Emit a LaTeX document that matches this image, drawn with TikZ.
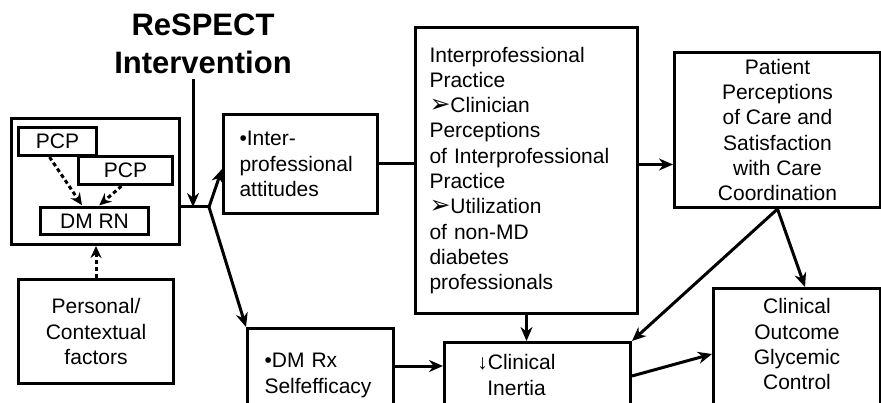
\documentclass[tikz,border=0pt]{standalone}
\usepackage{fontspec}
\setmainfont{Liberation Sans}
\newfontfamily\dejavu{DejaVu Sans}
\usetikzlibrary{arrows.meta,calc}
\newcommand\arrowhd{{\dejavu\fontsize{25}{20}\selectfont ➢}}
\tikzset{
  box/.style={draw, line width=3pt, rectangle, anchor=north west, inner sep=0pt,
    font=\fontsize{21}{25.3}\selectfont},
  plainline/.style={line width=3pt},
  arr/.style={line width=3pt, -{Stealth[length=14pt,width=12pt,inset=4.5pt]}},
  darr/.style={line width=3pt, dash pattern=on 4pt off 3pt,
    -{Stealth[length=12pt,width=11pt,inset=4pt]}},
}
\begin{document}
\begin{tikzpicture}[x=1pt,y=-1pt]
\useasboundingbox (0,0) rectangle (881,403);
\clip (0,0) rectangle (881,403);
\fill[white] (0,0) rectangle (881,403);

% title
\node[font=\bfseries\fontsize{31}{38}\selectfont, align=center, inner sep=0pt, anchor=north]
  (title) at (203,14) {ReSPECT\\Intervention};

% left group
\node[box, minimum width=168pt, minimum height=126pt] (team) at (10,117) {};
\node[box, minimum width=78pt, minimum height=28pt] (pcp1) at (17,126) {PCP};
\node[box, minimum width=94pt, minimum height=28pt] (pcp2) at (77,155) {PCP};
\node[box, minimum width=108pt, minimum height=27pt] (dmrn) at (39,206) {DM RN};
\node[box, minimum width=155pt, minimum height=104pt, align=center] (pers) at (17,278)
  {Personal/\\Contextual\\factors};

% middle
\node[box, minimum width=154pt, minimum height=99pt, text width=122pt, inner xsep=16pt, align=left]
  (att) at (222,113) {•Inter-\\professional\\attitudes};
\node[box, minimum width=146pt, text width=112pt, inner xsep=17pt, inner ysep=25pt, align=left]
  (dmrx) at (246,327) {•DM Rx\\Selfefficacy\rule[-40pt]{0pt}{0pt}};
\node[box, minimum width=222pt, minimum height=286pt, text width=194pt, inner xsep=14pt, align=left]
  (ip) at (414,26) {Interprofessional\\Practice\\\arrowhd Clinician\\Perceptions\\of Interprofessional\\Practice\\\arrowhd Utilization\\of non-MD\\diabetes\\professionals};
\node[box, minimum width=186pt, inner ysep=12pt, align=center]
  (inr) at (443,341) {↓Clinical\hspace*{42pt}\\Inertia\hspace*{42pt}\rule[-40pt]{0pt}{0pt}};

% right
\node[box, minimum width=206pt, minimum height=155pt, align=center]
  (pat) at (673,51) {Patient\\Perceptions\\of Care and\\Satisfaction\\with Care\\Coordination};
\node[box, minimum width=167pt, inner ysep=10pt, align=center]
  (out) at (712,287) {Clinical\\Outcome\\Glycemic\\Control\rule[-40pt]{0pt}{0pt}};

% coordinates
\coordinate (j) at (193,207);
\coordinate (br) at (209,207);
\coordinate (t0) at ([yshift=-5pt]title.south);
\coordinate (a1) at ([yshift=-5pt]att.west);
\coordinate (d1) at ([yshift=-39pt]dmrx.north east);
\coordinate (i1) at ([yshift=6pt]ip.east);
\coordinate (n1) at ([yshift=-35pt]inr.north east);
\coordinate (o1) at ([yshift=-67pt]out.north west);

% connectors
\draw[arr] (t0 -| j) -- (j);
\draw[plainline] (team.east |- br) -- (br);
\draw[arr] (br) -- (a1);
\draw[arr] (br) -- (dmrx.north west);
\draw[plainline] (att.east) -- (att.east -| ip.west);
\draw[arr] (i1) -- (i1 -| pat.west);
\draw[arr] (ip.south) -- (ip.south |- inr.north);
\draw[arr] (d1) -- (d1 -| inr.west);
\draw[arr] (pat.south) -- (inr.north east);
\draw[arr] (pat.south) -- ([xshift=8pt]out.north);
\draw[arr] (n1) -- (o1);

\draw[darr] (pers.north) -- (pers.north |- team.south);
\draw[darr, shorten >=1pt] ([xshift=-8pt]pcp1.south) -- ([xshift=-12pt]dmrn.north);
\draw[darr, shorten >=1pt] ([xshift=-4pt]pcp2.south) -- ([xshift=4pt]dmrn.north);
\end{tikzpicture}
\end{document}
